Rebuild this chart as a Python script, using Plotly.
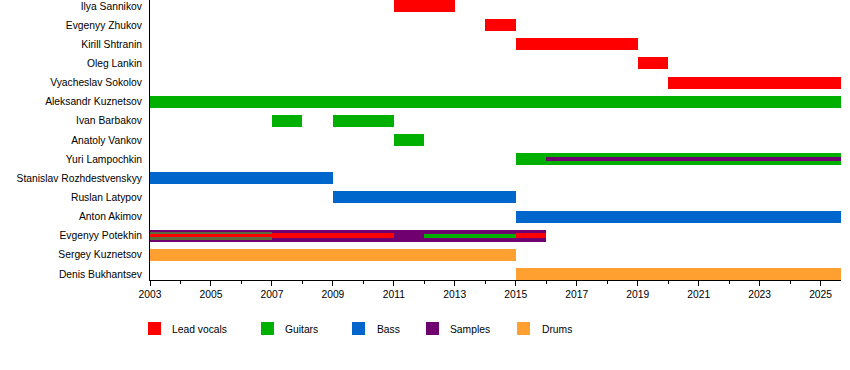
import plotly.graph_objects as go

END = 2025.67

members = [
    "Ilya Sannikov", "Evgenyy Zhukov", "Kirill Shtranin", "Oleg Lankin",
    "Vyacheslav Sokolov", "Aleksandr Kuznetsov", "Ivan Barbakov",
    "Anatoly Vankov", "Yuri Lampochkin", "Stanislav Rozhdestvenskyy",
    "Ruslan Latypov", "Anton Akimov", "Evgenyy Potekhin",
    "Sergey Kuznetsov", "Denis Bukhantsev",
]

# main bars: (member, start, end)
vocals_main = [
    ("Ilya Sannikov", 2011, 2013), ("Evgenyy Zhukov", 2014, 2015),
    ("Kirill Shtranin", 2015, 2019), ("Oleg Lankin", 2019, 2020),
    ("Vyacheslav Sokolov", 2020, END),
]
guitars_main = [
    ("Aleksandr Kuznetsov", 2003, END), ("Ivan Barbakov", 2007, 2008),
    ("Ivan Barbakov", 2009, 2011), ("Anatoly Vankov", 2011, 2012),
    ("Yuri Lampochkin", 2015, END),
]
bass_main = [
    ("Stanislav Rozhdestvenskyy", 2003, 2009), ("Ruslan Latypov", 2009, 2015),
    ("Anton Akimov", 2015, END),
]
samples_main = [("Evgenyy Potekhin", 2003, 2016)]
drums_main = [("Sergey Kuznetsov", 2003, 2015), ("Denis Bukhantsev", 2015, END)]

# secondary overlaid bands
mixed_band = [("Evgenyy Potekhin", 2003, 2007)]
vocals_band = [("Evgenyy Potekhin", 2007, 2011), ("Evgenyy Potekhin", 2015, 2016)]
guitars_thin = [("Evgenyy Potekhin", 2012, 2015)]
vocals_thin = [("Evgenyy Potekhin", 2003, 2007)]
samples_thin = [("Yuri Lampochkin", 2016, END)]

roles = ["Lead vocals", "Guitars", "Bass", "Samples", "Drums"]
colors = {"Lead vocals": "#ff0000", "Guitars": "#00b000", "Bass": "#0066cc",
          "Samples": "#700070", "Drums": "#ffa030"}
MIXED = "#5f6a3c"

idx = {m: i for i, m in enumerate(members)}

fig = go.Figure()


def add(stints, color, width, name):
    fig.add_trace(go.Bar(
        orientation="h",
        y=[idx[m] for m, s, e in stints],
        base=[s for m, s, e in stints],
        x=[e - s for m, s, e in stints],
        width=width,
        marker=dict(color=color, line=dict(width=0)),
        name=name, showlegend=False,
        hovertext=[m for m, s, e in stints],
    ))


FULL = 0.627
add(vocals_main, colors["Lead vocals"], FULL, "Lead vocals")
add(guitars_main, colors["Guitars"], FULL, "Guitars")
add(bass_main, colors["Bass"], FULL, "Bass")
add(samples_main, colors["Samples"], FULL, "Samples")
add(drums_main, colors["Drums"], FULL, "Drums")
add(mixed_band, MIXED, 0.42, "Guitars")
add(vocals_band, colors["Lead vocals"], 0.27, "Lead vocals")
add(guitars_thin, colors["Guitars"], 0.2, "Guitars")
add(vocals_thin, colors["Lead vocals"], 0.16, "Lead vocals")
add(samples_thin, colors["Samples"], 0.2, "Samples")

FONT = dict(family="Liberation Sans, Arial, sans-serif", size=10.3, color="black")

fig.update_layout(
    width=850, height=370,
    margin=dict(l=150, r=9, t=0, b=90),
    barmode="overlay", bargap=0,
    plot_bgcolor="white", paper_bgcolor="white",
    font=FONT, showlegend=False,
)
fig.update_xaxes(
    range=[2003, END],
    tickvals=list(range(2003, 2026, 2)),
    ticks="outside", ticklen=5, tickcolor="black", tickwidth=1,
    minor=dict(tickvals=list(range(2004, 2026, 2)), ticks="outside",
               ticklen=3, tickcolor="black", tickwidth=1),
    showline=True, linecolor="black", linewidth=1,
    showgrid=False, zeroline=False, tickfont=FONT,
)
fig.update_yaxes(
    range=[len(members) - 1 + 0.315, -0.315],
    tickvals=list(range(len(members))), ticktext=members,
    ticks="", ticklabelstandoff=5,
    showline=True, linecolor="black", linewidth=1,
    showgrid=False, zeroline=False, tickfont=FONT,
)

# manual legend (pixel layout converted to paper coords)
PW, PH, PL, PB = 691.0, 280.0, 150.0, 280.0
legend_sq_x = [148, 261, 352, 426, 517]
legend_tx_x = [170, 283, 375, 448, 540]
for role, sx, tx in zip(roles, legend_sq_x, legend_tx_x):
    fig.add_shape(type="rect", xref="paper", yref="paper",
                  x0=(sx - PL) / PW, x1=(sx + 13 - PL) / PW,
                  y0=(PB - 335) / PH, y1=(PB - 322) / PH,
                  fillcolor=colors[role], line=dict(width=0))
    fig.add_annotation(xref="paper", yref="paper",
                       x=(tx - PL) / PW, y=(PB - 329) / PH,
                       text=role, showarrow=False, xanchor="left",
                       yanchor="middle", font=FONT)

fig.write_html("out.html",
               config={"displayModeBar": False},
               post_script="document.body.style.margin='0';document.body.style.padding='0';")
